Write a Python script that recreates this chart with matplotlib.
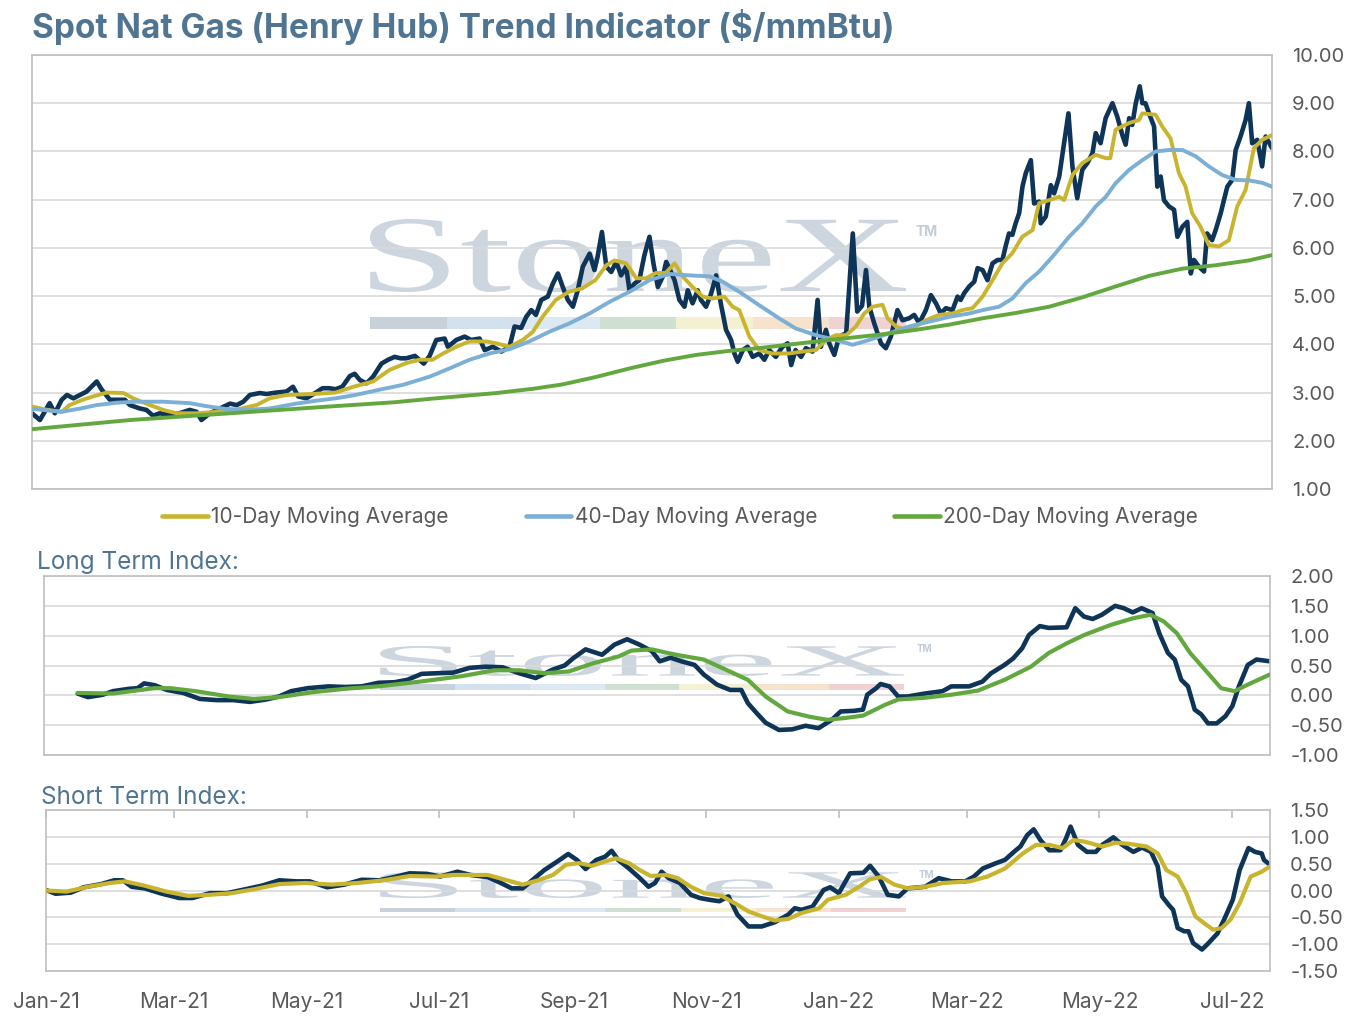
import datetime as dt
import matplotlib
matplotlib.use("Agg")
import matplotlib.pyplot as plt
import matplotlib.transforms as mtransforms
from matplotlib.textpath import TextPath
from matplotlib.patches import PathPatch, Rectangle
from matplotlib.font_manager import FontProperties
from matplotlib.lines import Line2D

plt.rcParams['font.family'] = ['Inter', 'DejaVu Sans']
plt.rcParams['axes.unicode_minus'] = False

# ---------------- data (x = days since 2021-01-01) ----------------
START = dt.date(2021, 1, 1)
END_DAY = 563.5

spot = [(0,2.57),(3.6,2.43),(8,2.78),(10.4,2.57),(13.5,2.85),(15.9,2.95),(18.8,2.88),(21.8,2.95),
        (24.8,3.02),(29.4,3.23),(31.7,3.06),(35.4,2.85),(39.2,2.85),(42.2,2.85),(44.5,2.74),(49,2.67),
        (52,2.64),(55,2.52),(58,2.57),(62.6,2.54),(67,2.57),(71.7,2.64),(74.8,2.6),(77,2.43),(80.8,2.57),
        (85.4,2.67),(90,2.77),(93,2.74),(96,2.81),(99,2.95),(103.5,2.99),(106.6,2.97),(111,3.0),
        (115.6,3.02),(118.6,3.12),(121,2.92),(124.7,2.88),(129,3.0),(132,3.09),(135,3.09),(138,3.07),
        (141,3.12),(144.4,3.34),(146.6,3.39),(149,3.26),(152,3.19),(155,3.33),(158.8,3.6),(161.8,3.68),
        (164.8,3.74),(167.5,3.71),(170,3.71),(174,3.76),(178,3.6),(180.7,3.76),(183.7,4.09),(187.5,4.12),
        (189,3.95),(192.8,4.09),(196.6,4.16),(199.6,4.09),(203.4,4.12),(205.7,3.88),(209.4,3.95),
        (213.3,3.85),(217,3.95),(219.3,4.37),(222.3,4.34),(224.6,4.57),(226.9,4.71),(229,4.61),
        (231.4,4.92),(234.4,4.99),(236.7,5.26),(239,5.47),(241.2,5.19),(243.5,4.92),(245.8,4.78),
        (248,5.12),(250.3,5.61),(253.4,5.88),(255.6,5.54),(257,5.81),(259,6.33),(261,5.61),(263.2,5.5),
        (265.5,5.71),(267.7,5.43),(270,5.61),(271.5,5.12),(273.8,5.26),(276,5.33),(278.3,5.85),
        (280.6,6.23),(282.4,5.68),(284.4,5.19),(286.6,5.4),(288.2,5.71),(289.7,5.57),(292,5.33),
        (294.2,4.92),(296.5,4.78),(298,5.12),(300.2,4.85),(302.5,5.12),(304,4.92),(306.3,4.78),
        (308.6,5.05),(310.9,5.43),(313,4.85),(315.4,4.3),(317.7,4.09),(319.2,3.81),(320.7,3.64),
        (323,3.88),(325.2,3.95),(327.5,3.74),(330.5,3.81),(332.8,3.68),(335,3.88),(338,3.74),(341,3.95),
        (343.4,4.02),(345,3.57),(347,3.88),(349.5,3.74),(351.7,3.92),(354.7,3.85),(357,4.92),(358.5,3.95),
        (360.8,4.3),(362.3,4.02),(364.6,3.78),(366.8,4.16),(370,4.23),(373,6.3),(375,4.68),(377.2,4.8),
        (379,5.54),(380.5,4.78),(382.7,4.44),(385.8,4.02),(388,3.92),(390.3,4.16),(393.3,4.71),
        (395.6,4.5),(398.6,4.54),(400.9,4.61),(403.2,4.44),(406.2,4.71),(408.5,5.02),(410.8,4.85),
        (413,4.64),(415.3,4.75),(418.3,4.71),(420.6,4.99),(422,4.92),(423.6,5.06),(425.9,5.2),
        (428.2,5.3),(429.7,5.58),(432,5.54),(434.2,5.33),(436.5,5.68),(438.8,5.75),(441,5.75),
        (442.6,6.06),(444,6.3),(445.5,6.27),(447,6.51),(448.6,6.72),(450.1,7.27),(451.6,7.55),
        (453.9,7.82),(455.4,6.92),(457.7,6.96),(458.4,6.51),(460.7,6.65),(463,7.3),(464.5,7.13),
        (466.8,7.48),(469,8.17),(471,8.79),(472.8,7.69),(475,7.03),(477.3,7.62),(479.6,7.76),
        (481.9,7.96),(483.4,8.38),(485.6,8.17),(487.9,8.69),(491,9.0),(493.2,8.72),(495.5,8.34),
        (497,8.14),(498.6,8.69),(500,8.55),(501.6,9.0),(503.4,9.35),(504.6,9.0),(506,9.0),(507.6,8.79),
        (509.9,8.52),(511.4,7.27),(512.9,7.48),(514.4,6.99),(516.7,6.86),(519,6.79),(520.5,6.23),
        (522.8,6.44),(525,6.54),(526.6,5.47),(528,5.75),(530.3,5.61),(532.6,5.51),(534,6.3),
        (536.3,6.16),(537.9,6.37),(540.2,6.72),(541.7,7.0),(543.2,7.27),(545.4,7.41),(547,8.03),
        (549.2,8.31),(551.5,8.65),(553,9.0),(554.5,8.17),(556.8,8.24),(559,7.69),(560.6,8.31),
        (563.5,8.07)]

ma10 = [(0,2.71),(7,2.64),(13.5,2.6),(17,2.74),(23,2.85),(27.8,2.92),(34,3.0),(41.6,2.99),(46,2.88),
        (53.6,2.74),(59.6,2.64),(65.7,2.57),(74.8,2.57),(83.8,2.6),(93,2.65),(102,2.74),(108,2.88),
        (115.6,2.95),(127.7,2.97),(138,3.0),(146,3.12),(155,3.23),(162.5,3.47),(170,3.61),(176,3.68),
        (182,3.68),(186.8,3.81),(192.8,3.95),(198.8,4.06),(206.4,4.06),(211,4.02),(217,3.95),(223,4.09),
        (227.6,4.26),(232,4.57),(238,4.92),(244,5.09),(250,5.16),(256,5.33),(261,5.64),(264.7,5.74),
        (270,5.68),(274.6,5.37),(279,5.37),(283.6,5.48),(288,5.48),(292,5.68),(295.8,5.4),(300.2,5.19),
        (304.8,4.99),(309.3,4.95),(314.6,4.99),(318.4,4.78),(321.4,4.71),(326,4.16),(330.5,3.88),
        (336.5,3.81),(344,3.81),(350,3.85),(356.2,3.88),(360.8,4.09),(365.3,4.19),(370,4.19),
        (374.4,4.37),(378.2,4.64),(382,4.78),(386.5,4.82),(388.8,4.54),(392.6,4.37),(397.1,4.3),
        (401.6,4.37),(406.2,4.5),(412.2,4.61),(418.3,4.64),(422.8,4.71),(427.4,4.75),(432,4.99),
        (436.5,5.33),(441,5.68),(445.5,5.89),(450,6.23),(454.7,6.37),(457.7,6.93),(462.2,6.99),
        (466.8,7.06),(469,6.99),(472.8,7.51),(477.3,7.76),(483.4,7.93),(488,7.86),(490,7.86),
        (492.4,8.45),(498.6,8.59),(503,8.65),(504.6,8.79),(510.6,8.76),(513.6,8.52),(517.4,8.27),
        (521.2,7.55),(524.2,7.27),(527.2,6.72),(531,6.44),(534.8,6.06),(539.4,6.03),(543.9,6.16),
        (547.7,6.86),(551.5,7.2),(555.3,8.07),(559,8.24),(563.5,8.34)]

ma40 = [(0,2.66),(7,2.63),(13.5,2.6),(22,2.67),(29.4,2.74),(38.5,2.79),(47.5,2.81),(59.6,2.81),
        (71.7,2.78),(79,2.72),(88,2.66),(97.5,2.64),(108,2.67),(120,2.77),(129,2.83),(138,2.88),
        (147,2.95),(158,3.06),(168.6,3.16),(180.7,3.33),(189.7,3.5),(198.8,3.68),(207.9,3.81),(217,3.9),
        (226,4.06),(235,4.26),(244,4.43),(253.4,4.64),(262.4,4.88),(271.5,5.09),(280.6,5.33),
        (289.7,5.46),(298.7,5.43),(307.8,5.41),(313.8,5.3),(321.4,5.09),(330.5,4.81),(339.5,4.54),
        (347,4.33),(356.2,4.19),(365.3,4.09),(372.9,3.99),(380.5,4.09),(389.6,4.23),(398.6,4.37),
        (407.7,4.47),(416.8,4.57),(425.9,4.64),(432,4.71),(439.5,4.78),(445.5,4.95),(451.6,5.27),
        (457.7,5.51),(463.8,5.82),(471.3,6.23),(477.3,6.51),(483.4,6.86),(488,7.06),(492.4,7.34),
        (498.6,7.62),(504.6,7.82),(510.6,8.0),(516.7,8.03),(522.8,8.03),(528.8,7.9),(534.8,7.69),
        (540.9,7.51),(547,7.41),(553,7.4),(559,7.35),(563.5,7.27)]

ma200 = [(0,2.24),(44.5,2.43),(90,2.57),(135,2.71),(165,2.8),(181,2.87),(211,2.99),(228,3.08),
         (241.2,3.17),(256,3.32),(271.5,3.5),(287,3.66),(301.7,3.78),(316,3.86),(332,3.93),
         (347,4.01),(362.3,4.09),(385,4.2),(401.6,4.3),(417,4.41),(432,4.54),(447,4.65),
         (462.2,4.78),(477,4.97),(492.4,5.2),(507.6,5.42),(522.8,5.57),(537.9,5.64),(553,5.74),
         (563.5,5.85)]

lt_index = [(15.5,0.03),(20.2,-0.03),(27,0.01),(31.7,0.07),(39.3,0.11),(43,0.12),(46,0.2),(50.8,0.17),
            (56.5,0.09),(64,0.04),(71.6,-0.06),(79.3,-0.08),(87,-0.08),(94.6,-0.11),(102,-0.07),
            (108,-0.02),(113.6,0.07),(121.2,0.12),(130.8,0.15),(138.4,0.14),(146,0.15),(153.7,0.21),
            (161.2,0.22),(167,0.26),(173.6,0.36),(180.3,0.37),(188,0.38),(195.6,0.46),(203,0.48),
            (210.8,0.47),(218.4,0.37),(226,0.29),(233.7,0.43),(239.3,0.5),(243.2,0.62),(248.9,0.77),
            (256.5,0.68),(262.2,0.85),(268,0.94),(273.7,0.85),(279.4,0.74),(283,0.57),(288,0.63),
            (293,0.57),(299,0.51),(303.2,0.35),(309.3,0.18),(315.4,0.09),(320.5,0.09),(323.5,-0.13),
            (327.6,-0.3),(331.7,-0.46),(337.8,-0.58),(343.9,-0.57),(350,-0.51),(356,-0.55),(362.1,-0.41),
            (366.2,-0.27),(372.3,-0.26),(376.4,-0.24),(378.4,0.01),(382.5,0.12),(384.5,0.19),(388.6,0.15),
            (392.6,-0.02),(396.8,-0.02),(404.9,0.03),(413,0.07),(417,0.15),(425.2,0.15),(431.3,0.23),
            (435.3,0.37),(441.5,0.51),(445.5,0.62),(449.6,0.79),(452.7,1.01),(457.7,1.16),(461.8,1.13),
            (470,1.14),(474,1.46),(478,1.32),(482,1.28),(486.2,1.35),(492.3,1.5),(496.3,1.46),
            (500.4,1.39),(504.5,1.46),(509.5,1.38),(512.6,1.04),(516.6,0.71),(519.7,0.6),(522.7,0.26),
            (525.8,0.15),(528.9,-0.24),(531.9,-0.32),(535,-0.47),(539,-0.47),(543,-0.35),(546.2,-0.18),
            (549.2,0.15),(553.3,0.51),(557.3,0.6),(563.5,0.57)]

lt_signal = [(15.5,0.04),(31.7,0.03),(50.8,0.12),(58,0.12),(69.7,0.07),(85,-0.02),(96.5,-0.06),
             (108,-0.03),(123,0.05),(138.4,0.11),(153.7,0.15),(172.8,0.23),(191.8,0.32),(207,0.42),
             (218.4,0.42),(230,0.37),(241.2,0.4),(252.7,0.54),(264,0.65),(270,0.75),(279.4,0.77),
             (283,0.74),(290.5,0.68),(303.2,0.6),(313.4,0.43),(323.5,0.26),(331.7,-0.02),(341.8,-0.27),
             (352,-0.36),(360,-0.41),(368.2,-0.38),(376.4,-0.34),(386.5,-0.16),(392.6,-0.07),
             (404.9,-0.04),(417,0.01),(429.3,0.08),(441.5,0.26),(453.6,0.48),(461.8,0.71),(470,0.87),
             (478,1.01),(490.3,1.18),(500.4,1.29),(508.5,1.35),(514.6,1.24),(520.7,1.04),(526.8,0.71),
             (535,0.37),(541,0.12),(547.2,0.07),(553.3,0.18),(563.5,0.35)]

st_index = [(0,0.01),(4.4,-0.06),(11.4,-0.04),(17.4,0.06),(25.4,0.12),(31.4,0.19),(35.4,0.19),
            (39.4,0.07),(45.4,0.04),(53.4,-0.06),(61.4,-0.14),(67.4,-0.14),(75.4,-0.05),(83.4,-0.05),
            (91.4,0.02),(99.4,0.09),(107.4,0.19),(115.4,0.17),(121.4,0.17),(129.4,0.06),(137.4,0.11),
            (145.4,0.2),(153.4,0.19),(161.4,0.26),(167.4,0.32),(175.4,0.31),(181.4,0.26),(189.4,0.35),
            (195.4,0.29),(203.4,0.25),(209.4,0.14),(214.4,0.04),(219.4,0.04),(224.4,0.21),(229.4,0.38),
            (235.4,0.54),(240.4,0.68),(244.4,0.57),(248.4,0.4),(253.4,0.57),(257.4,0.63),(260.4,0.74),
            (263.4,0.57),(268.4,0.41),(273.4,0.23),(277.4,0.07),(280.4,0.14),(283.4,0.35),(286.7,0.23),
            (291.8,0.14),(296.9,-0.08),(301,-0.14),(305,-0.17),(310,-0.2),(314.2,-0.11),(318.3,-0.45),
            (323.4,-0.67),(329.5,-0.67),(335.6,-0.59),(341.7,-0.45),(344.7,-0.33),(347.8,-0.36),
            (352.9,-0.3),(358,0.01),(361,0.06),(365,-0.05),(370.2,0.32),(376.3,0.33),(379.4,0.46),
            (383.4,0.26),(387.5,-0.08),(392.6,-0.11),(396.7,0.04),(404.8,0.07),(411,0.23),(417,0.17),
            (423.2,0.17),(427.2,0.26),(431.3,0.41),(437.4,0.51),(441.5,0.57),(445.6,0.72),(448.6,0.82),
            (451.7,1.03),(454.7,1.14),(457.8,0.94),(461.9,0.75),(467,0.75),(469.6,0.97),(471.7,1.19),
            (475.1,0.85),(479.2,0.72),(483.3,0.72),(486.3,0.85),(491.4,0.99),(495.5,0.85),(500.6,0.72),
            (504.6,0.8),(508.7,0.72),(511.8,0.45),(513.8,-0.11),(516.9,-0.27),(518.9,-0.36),(521,-0.7),
            (524,-0.76),(526,-0.76),(528.1,-0.98),(532.2,-1.1),(535.2,-0.98),(539.3,-0.8),(542.4,-0.54),
            (546.4,-0.17),(549.5,0.38),(553.6,0.79),(556.6,0.72),(559.7,0.69),(560.7,0.57),(563.5,0.48)]

st_signal = [(0,0),(9.4,-0.02),(19.4,0.07),(29.4,0.14),(36.4,0.17),(45.4,0.09),(55.4,-0.02),(65.4,-0.1),
             (75.4,-0.08),(85.4,-0.05),(95.4,0.02),(107.4,0.12),(119.4,0.14),(131.4,0.11),(143.4,0.14),
             (155.4,0.19),(167.4,0.27),(179.4,0.26),(187.4,0.29),(203.4,0.29),(211.4,0.2),(219.4,0.11),
             (227.4,0.2),(233.4,0.29),(239.4,0.48),(245.4,0.51),(251.4,0.46),(257.4,0.54),(262.4,0.6),
             (268.4,0.51),(273.4,0.38),(278.4,0.27),(285.4,0.29),(290.8,0.23),(296.9,0.07),(303,-0.05),
             (311,-0.1),(317.2,-0.24),(323.4,-0.39),(329.5,-0.48),(335.6,-0.56),(341.7,-0.53),
             (347.8,-0.42),(356,-0.33),(360,-0.17),(368.2,-0.08),(374.3,0.07),(379.4,0.21),(384.5,0.25),
             (390.6,0.11),(396.7,0.04),(404.8,0.07),(413,0.14),(425.2,0.17),(433.4,0.26),(441.5,0.41),
             (449.7,0.69),(455.8,0.85),(461.9,0.85),(468,0.79),(473,0.94),(478.2,0.91),(486.3,0.82),
             (492.4,0.89),(498.5,0.87),(506.7,0.82),(511.8,0.69),(515.8,0.38),(521,0.26),(525,-0.05),
             (529.1,-0.48),(533.2,-0.61),(537.3,-0.73),(541.3,-0.7),(545.4,-0.54),(549.5,-0.24),
             (554.6,0.26),(559.7,0.35),(563.5,0.45)]

legend_labels = ["10-Day Moving Average", "40-Day Moving Average", "200-Day Moving Average"]
tick_months = [(2021, 1), (2021, 3), (2021, 5), (2021, 7), (2021, 9), (2021, 11),
               (2022, 1), (2022, 3), (2022, 5), (2022, 7)]

# ---------------- style ----------------
NAVY = '#0E3458'
GOLD = '#C9B42F'
BLUE = '#7BAFD6'
GREEN = '#63A83F'
TITLE_C = '#4F7592'
TEXT_C = '#595959'
GRID_C = '#D9D9D9'
SPINE_C = '#BFBFBF'
WM_C = '#CDD5DF'
FS = 14.5

W, H = 1354, 1018
fig = plt.figure(figsize=(W / 100, H / 100), dpi=100)
pix = mtransforms.Affine2D().scale(1 / W, -1 / H).translate(0, 1) + fig.transFigure


def axes_px(l, t, r, b):
    return fig.add_axes([l / W, 1 - b / H, (r - l) / W, (b - t) / H])


def style_axes(ax, ylim, step, fmt='%.2f'):
    ax.set_xlim(0, END_DAY)
    ax.set_ylim(*ylim)
    n = int(round((ylim[1] - ylim[0]) / step))
    ax.set_yticks([ylim[0] + i * step for i in range(n + 1)])
    ax.set_yticklabels([fmt % (ylim[0] + i * step) for i in range(n + 1)])
    ax.yaxis.tick_right()
    ax.tick_params(axis='y', length=0, pad=14.5, labelsize=FS, labelcolor=TEXT_C)
    ax.set_axisbelow(True)
    ax.grid(axis='y', color=GRID_C, linewidth=1.2)
    ax.grid(axis='x', visible=False)
    for s in ax.spines.values():
        s.set_color(SPINE_C)
        s.set_linewidth(1.2)


def watermark(ax, x0, x1, ytop, ybase, bar_t, bar_b, tm_x, tm_y, tm_size):
    tp = TextPath((0, 0), "StoneX", size=100, prop=FontProperties(family='Liberation Serif'))
    ext = tp.get_extents()
    sx = (x1 - x0) / ext.width
    sy = (ybase - ytop) / ext.height
    tr = (mtransforms.Affine2D().translate(-ext.x0, -ext.y0).scale(sx, -sy).translate(x0, ybase)
          + pix)
    ax.add_patch(PathPatch(tp, transform=tr, facecolor=WM_C, edgecolor='none', zorder=0.2))
    seg_cols = ['#C8D0DA', '#D3E1EE', '#DCE9F3', '#CFE0D3', '#F3F1D2', '#F7E3CD', '#F0D2D3']
    wseg = (x1 - x0) / len(seg_cols)
    for i, c in enumerate(seg_cols):
        ax.add_patch(Rectangle((x0 + i * wseg, bar_t), wseg, bar_b - bar_t, transform=pix,
                               facecolor=c, edgecolor='none', zorder=0.2))
    ax.text(tm_x, tm_y, "TM", transform=pix, fontsize=tm_size, color='#C3CCD7',
            ha='left', va='center', zorder=0.2, fontweight='bold')


def xy(pairs):
    return [p[0] for p in pairs], [p[1] for p in pairs]


line_kw = dict(solid_joinstyle='round', solid_capstyle='round')

# ---------------- top chart ----------------
ax1 = axes_px(32, 55, 1272, 489)
style_axes(ax1, (1, 10), 1)
ax1.set_xticks([])
watermark(ax1, 370, 906, 219, 292, 317, 329, 916, 232, 10)
ax1.plot(*xy(spot), color=NAVY, lw=3.3, zorder=2, **line_kw)
ax1.plot(*xy(ma10), color=GOLD, lw=2.8, zorder=3, **line_kw)
ax1.plot(*xy(ma40), color=BLUE, lw=2.8, zorder=4, **line_kw)
ax1.plot(*xy(ma200), color=GREEN, lw=2.8, zorder=5, **line_kw)

handles = [Line2D([0], [0], color=c, lw=3.3, solid_capstyle='round') for c in (GOLD, BLUE, GREEN)]
fig.legend(handles, legend_labels, loc='center', bbox_to_anchor=(680 / W, 1 - 517 / H),
           ncol=3, frameon=False, fontsize=15, labelcolor=TEXT_C, handlelength=2.2,
           handletextpad=0.15, columnspacing=3.7, borderpad=0)

fig.text(32 / W, 1 - 27 / H, "Spot Nat Gas (Henry Hub) Trend Indicator ($/mmBtu)",
         fontsize=24, fontweight='bold', color=TITLE_C, ha='left', va='center')

# ---------------- long term ----------------
fig.text(37 / W, 1 - 562 / H, "Long Term Index:", fontsize=17.5, color=TITLE_C,
         ha='left', va='center')
ax2 = axes_px(44, 576, 1270, 755)
style_axes(ax2, (-1, 2), 0.5)
ax2.set_xticks([])
watermark(ax2, 380, 904, 646, 676, 684, 690, 917, 649, 7)
ax2.plot(*xy(lt_index), color=NAVY, lw=3.3, zorder=2, **line_kw)
ax2.plot(*xy(lt_signal), color=GREEN, lw=3.0, zorder=3, **line_kw)

# ---------------- short term ----------------
fig.text(41 / W, 1 - 797 / H, "Short Term Index:", fontsize=17.5, color=TITLE_C,
         ha='left', va='center')
ax3 = axes_px(46, 810, 1270, 971)
style_axes(ax3, (-1.5, 1.5), 0.5)
watermark(ax3, 380, 906, 872, 898, 908, 912, 919, 875, 7)
ax3.plot(*xy(st_index), color=NAVY, lw=3.3, zorder=2, **line_kw)
ax3.plot(*xy(st_signal), color=GOLD, lw=3.0, zorder=3, **line_kw)

tick_pos = [(dt.date(y, m, 1) - START).days for y, m in tick_months]
tick_lab = [dt.date(y, m, 1).strftime('%b-%y') for y, m in tick_months]
ax3.set_xticks(tick_pos)
ax3.set_xticklabels(tick_lab)
ax3.tick_params(axis='x', bottom=False, top=True, labelbottom=True, labeltop=False,
                direction='in', length=6, width=1.2, color=SPINE_C, pad=15,
                labelsize=15, labelcolor=TEXT_C)

fig.savefig('out.png', dpi=100)
